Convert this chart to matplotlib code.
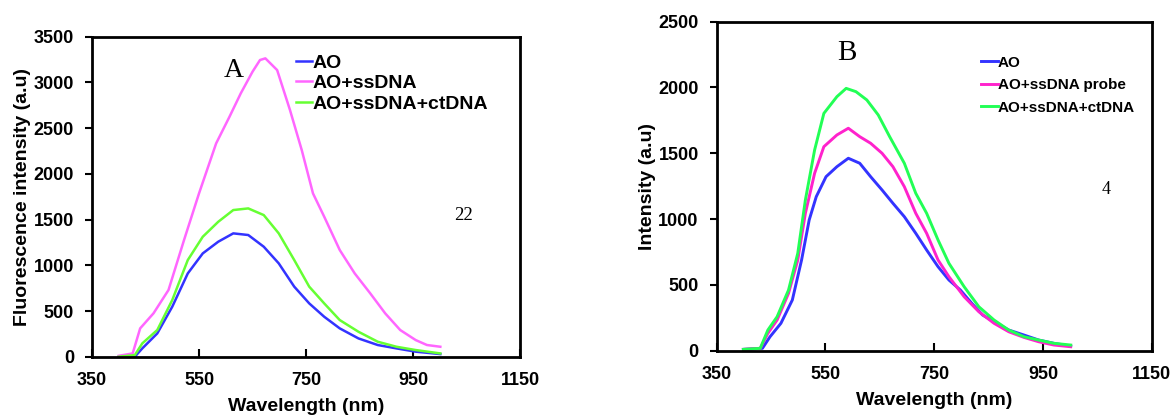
import matplotlib
matplotlib.use("Agg")
import matplotlib.pyplot as plt

# ---------------- Data: panel A ----------------
a_ao_x = [400, 430, 444, 472, 500, 529, 557, 586, 614, 642, 671, 699, 728, 756, 784, 813, 848, 884, 919, 955, 1001]
a_ao_y = [0, 0, 91, 255, 547, 911, 1130, 1258, 1349, 1331, 1203, 1021, 766, 583, 437, 310, 200, 128, 91, 55, 29]

a_ss_x = [400, 426, 440, 465, 493, 522, 550, 582, 607, 628, 650, 664, 674, 696, 720, 742, 763, 784, 813, 841, 870, 898, 926, 955, 976, 1001]
a_ss_y = [10, 36, 310, 475, 730, 1276, 1786, 2333, 2625, 2880, 3117, 3245, 3263, 3135, 2698, 2260, 1786, 1531, 1167, 911, 693, 474, 292, 182, 128, 109]

a_ct_x = [400, 430, 444, 472, 500, 529, 557, 586, 614, 642, 671, 699, 728, 756, 784, 813, 848, 884, 919, 955, 1001]
a_ct_y = [0, 18, 146, 292, 620, 1057, 1312, 1476, 1604, 1622, 1549, 1349, 1057, 766, 583, 401, 273, 164, 109, 73, 36]

# ---------------- Data: panel B ----------------
b_ao_x = [399, 434, 448, 468, 489, 506, 520, 533, 551, 571, 592, 613, 633, 654, 674, 695, 716, 736, 757, 777, 798, 819, 839, 860, 887, 915, 942, 970, 1001]
b_ao_y = [10, 18, 106, 208, 385, 689, 993, 1170, 1322, 1398, 1462, 1424, 1322, 1221, 1120, 1018, 892, 765, 638, 537, 461, 360, 271, 220, 157, 119, 81, 56, 35]

b_ss_x = [399, 430, 444, 461, 482, 499, 513, 530, 547, 571, 592, 613, 633, 654, 674, 695, 716, 736, 757, 777, 805, 832, 860, 887, 915, 942, 970, 1001]
b_ss_y = [10, 18, 132, 233, 436, 689, 1044, 1348, 1550, 1639, 1690, 1626, 1576, 1500, 1398, 1246, 1044, 892, 689, 562, 410, 296, 208, 144, 101, 68, 43, 30]

b_ct_x = [399, 430, 444, 461, 482, 499, 513, 530, 547, 571, 588, 606, 626, 647, 668, 695, 716, 736, 757, 777, 805, 832, 860, 887, 915, 942, 970, 1001]
b_ct_y = [10, 18, 157, 258, 461, 740, 1145, 1525, 1803, 1930, 1993, 1968, 1905, 1791, 1626, 1424, 1196, 1044, 841, 664, 486, 334, 233, 157, 106, 81, 56, 43]

x_ticks = [350, 550, 750, 950, 1150]
a_y_ticks = [0, 500, 1000, 1500, 2000, 2500, 3000, 3500]
b_y_ticks = [0, 500, 1000, 1500, 2000, 2500]

SANS = ["Liberation Sans", "DejaVu Sans"]
SERIF = ["Liberation Serif", "DejaVu Serif"]

fig = plt.figure(figsize=(11.75, 4.16), dpi=100)

def style_axes(ax, yticks, ylabel):
    ax.set_xlim(350, 1150)
    ax.set_ylim(yticks[0], yticks[-1])
    ax.set_xticks(x_ticks)
    ax.set_yticks(yticks)
    for s in ax.spines.values():
        s.set_linewidth(2)
        s.set_color("black")
    ax.tick_params(axis="x", direction="in", length=6, width=1.5, pad=11)
    ax.tick_params(axis="y", direction="out", length=5, width=1.5, pad=8)
    for lab in ax.get_xticklabels() + ax.get_yticklabels():
        lab.set_fontfamily(SANS)
        lab.set_fontweight("bold")
        lab.set_fontsize(13)
    ax.set_xlabel("Wavelength (nm)", fontfamily=SANS, fontweight="bold", fontsize=14, labelpad=6.5)
    ax.set_ylabel(ylabel, fontfamily=SANS, fontweight="bold", fontsize=14, labelpad=2)

# Panel A
axA = fig.add_axes([0.0783, 0.1425, 0.3643, 0.7693])
axA.plot(a_ao_x, a_ao_y, color="#3333ff", lw=1.8, label="AO")
axA.plot(a_ss_x, a_ss_y, color="#ff66ff", lw=1.8, label="AO+ssDNA")
axA.plot(a_ct_x, a_ct_y, color="#66ff33", lw=1.8, label="AO+ssDNA+ctDNA")
style_axes(axA, a_y_ticks, "Fluorescence intensity (a.u)")
axA.legend(loc="upper left", bbox_to_anchor=(0.458, 0.97), frameon=False,
           handlelength=0.85, handletextpad=0.0, labelspacing=0.15, borderaxespad=0,
           prop={"family": SANS, "weight": "bold", "size": 14})
axA.text(0.33, 0.895, "A", transform=axA.transAxes, fontfamily=SERIF, fontsize=20,
         ha="center", va="center")
axA.text(0.868, 0.44, "22", transform=axA.transAxes, fontfamily=SERIF, fontsize=13.5,
         ha="center", va="center")

# Panel B
axB = fig.add_axes([0.61, 0.157, 0.3702, 0.791])
axB.plot(b_ao_x, b_ao_y, color="#3333ff", lw=2.1, label="AO")
axB.plot(b_ss_x, b_ss_y, color="#ff22cc", lw=2.1, label="AO+ssDNA probe")
axB.plot(b_ct_x, b_ct_y, color="#22ff55", lw=2.1, label="AO+ssDNA+ctDNA")
style_axes(axB, b_y_ticks, "Intensity (a.u)")
axB.legend(loc="upper left", bbox_to_anchor=(0.594, 0.915), frameon=False,
           handlelength=1.1, handletextpad=0.0, labelspacing=0.56, borderaxespad=0,
           prop={"family": SANS, "weight": "bold", "size": 11})
axB.text(0.3, 0.905, "B", transform=axB.transAxes, fontfamily=SERIF, fontsize=21,
         ha="center", va="center")
axB.text(0.895, 0.49, "4", transform=axB.transAxes, fontfamily=SERIF, fontsize=13,
         ha="center", va="center")

fig.savefig("out.png", dpi=100)
